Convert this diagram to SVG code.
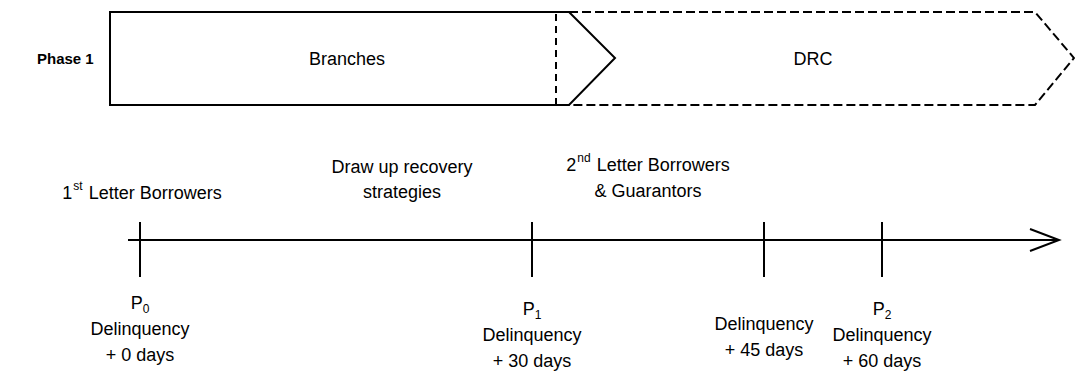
<svg xmlns="http://www.w3.org/2000/svg" width="1075" height="377" viewBox="0 0 1075 377">
<style>
text{font-family:"Liberation Sans",Arial,sans-serif;font-size:18px;fill:#000}
.b{font-weight:bold;font-size:15px}
.m{text-anchor:middle}
.s{font-size:12px}
.ln{fill:none;stroke:#000;stroke-width:2}
.d{stroke-dasharray:9 4}
.dv{stroke-dasharray:7 5}
</style>
<rect width="1075" height="377" fill="#fff"/>
<text class="b" x="37" y="64">Phase 1</text>
<g id="drc">
<path class="ln d" d="M569 12 H1035 L1074 58 L1035 105 H569"/>
<text class="m" x="813" y="65">DRC</text>
</g>
<g id="branches">
<path class="ln" d="M569 12 H110 V105 H569 L615 58 Z" fill="#fff"/>
<line class="ln dv" x1="556" y1="14" x2="556" y2="104"/>
<text class="m" x="347" y="65">Branches</text>
</g>
<g id="connectors">
<line class="ln" x1="128" y1="240" x2="1059" y2="240"/>
<polyline class="ln" points="1030,229 1059,240 1030,251"/>
<line class="ln" x1="140" y1="222" x2="140" y2="277"/>
<line class="ln" x1="532" y1="222" x2="532" y2="277"/>
<line class="ln" x1="764" y1="222" x2="764" y2="277"/>
<line class="ln" x1="882" y1="222" x2="882" y2="277"/>
</g>
<g id="labels-top">
<text class="m" x="142" y="199">1<tspan class="s" dy="-9" dx="1">st</tspan><tspan dy="9" dx="1"> Letter Borrowers</tspan></text>
<text class="m" x="402" y="173">Draw up recovery</text>
<text class="m" x="402" y="198">strategies</text>
<text class="m" x="648" y="171">2<tspan class="s" dy="-9" dx="1">nd</tspan><tspan dy="9" dx="1"> Letter Borrowers</tspan></text>
<text class="m" x="648" y="197">&amp; Guarantors</text>
</g>
<g id="p0">
<text class="m" x="140" y="309">P<tspan class="s" dy="4">0</tspan></text>
<text class="m" x="140" y="335">Delinquency</text>
<text class="m" x="140" y="361">+ 0 days</text>
</g>
<g id="p1">
<text class="m" x="532" y="315">P<tspan class="s" dy="4">1</tspan></text>
<text class="m" x="532" y="341">Delinquency</text>
<text class="m" x="532" y="367">+ 30 days</text>
</g>
<g id="d45">
<text class="m" x="764" y="330">Delinquency</text>
<text class="m" x="764" y="356">+ 45 days</text>
</g>
<g id="p2">
<text class="m" x="882" y="315">P<tspan class="s" dy="4">2</tspan></text>
<text class="m" x="882" y="341">Delinquency</text>
<text class="m" x="882" y="367">+ 60 days</text>
</g>
</svg>
